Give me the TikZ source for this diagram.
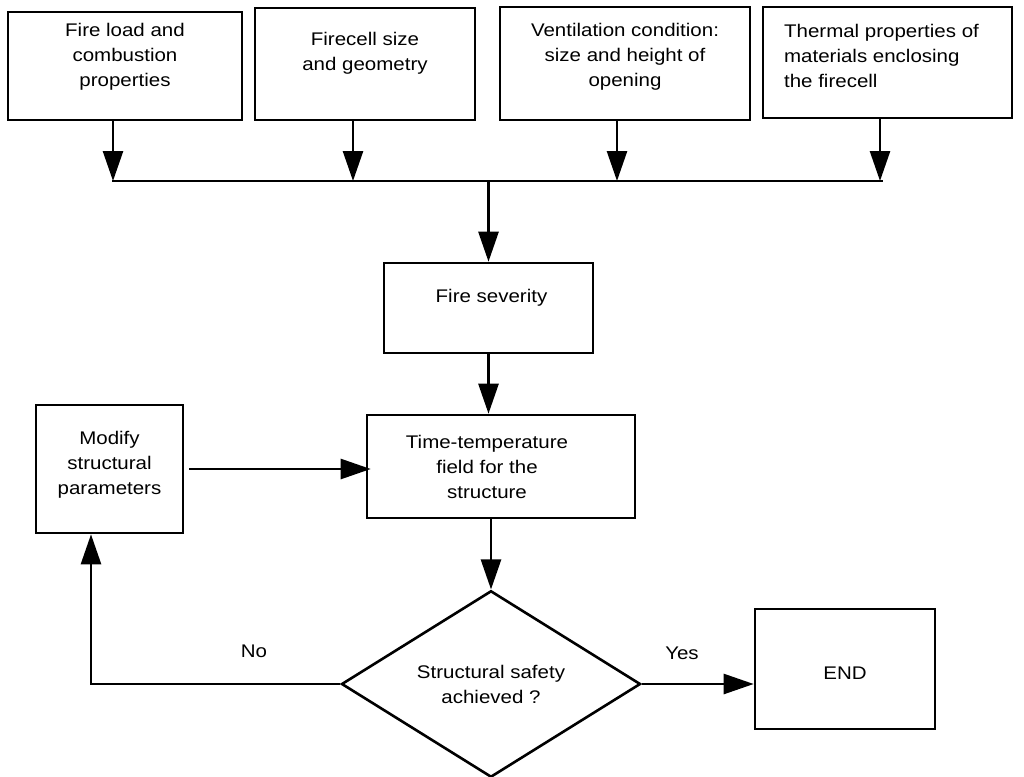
\documentclass[tikz,border=0pt]{standalone}
\usepackage{fontspec}
\setmainfont{Liberation Sans}[FakeStretch=1.12]
\usetikzlibrary{arrows.meta,shapes.geometric}
\begin{document}
\begin{tikzpicture}[x=1pt,y=-1pt,
 txt/.style={font=\fontsize{18.3}{25}\selectfont},
 box/.style={draw,line width=2.6pt,align=center,inner sep=0pt,txt},
 lab/.style={txt,align=center,inner sep=0pt},
 arr/.style={line width=2.6pt,-{Triangle[length=30pt,width=20pt]}},
 ln/.style={line width=2.6pt}]
\useasboundingbox (0,0) rectangle (1024,776);
% top boxes
\node[box, minimum width=234pt, minimum height=108pt,
  label={[lab,yshift=9pt]center:{Fire load and\\combustion\\properties}}] (b1) at (125,66) {};
\node[box, minimum width=220pt, minimum height=112pt,
  label={[lab,yshift=11pt]center:{Firecell size\\and geometry}}] (b2) at (365,64) {};
\node[box, minimum width=250pt, minimum height=113pt,
  label={[lab,yshift=7pt]center:{Ventilation condition:\\size and height of\\opening}}] (b3) at (625,63.5) {};
\node[box, minimum width=249pt, minimum height=111pt,
  label={[lab,align=left,yshift=7pt,xshift=-6pt]center:{Thermal properties of\\materials enclosing\\the firecell}}] (b4) at (887.5,62.5) {};
% junctions
\coordinate (j1) at (113,181);
\coordinate (j2) at (353,181);
\coordinate (j3) at (617,181);
\coordinate (j4) at (880,181);
\coordinate (jc) at (488.5,181);
\draw[arr] (b1.south -| j1) -- (j1);
\draw[arr] (b2.south -| j2) -- (j2);
\draw[arr] (b3.south -| j3) -- (j3);
\draw[arr] (b4.south -| j4) -- (j4);
\draw[ln] ([xshift=-1pt]j1) -- ([xshift=3pt]j4);
% middle
\node[box, minimum width=209pt, minimum height=90pt,
  label={[lab,yshift=10pt,xshift=3pt]center:{Fire severity}}] (fs) at (488.5,308) {};
\draw[arr] (jc) -- (fs.north);
\node[box, minimum width=268pt, minimum height=103pt,
  label={[lab,xshift=-14pt]center:{Time-temperature\\field for the\\structure}}] (tt) at (501,466.5) {};
\draw[arr] (fs.south) -- (fs.south |- tt.north);
\node[box, minimum width=147pt, minimum height=128pt,
  label={[lab,yshift=4pt]center:{Modify\\structural\\parameters}}] (mod) at (109.5,469) {};
\draw[arr] ([xshift=5pt]mod.east) -- ([xshift=5pt]mod.east -| tt.west);
% decision
\node[draw, diamond, line width=2.6pt, minimum width=299pt, minimum height=184pt, inner sep=0pt, align=center, txt] (dm) at (491,684) {Structural safety\\achieved ?};
\draw[arr] (tt.south -| dm.north) -- (dm.north);
\coordinate (nc) at (91,684);
\draw[arr] (dm.west) -- (nc) -- (nc |- mod.south);
\node[txt] (no) at (254,651) {No};
\node[box, minimum width=180pt, minimum height=120pt,
  label={[lab,yshift=-4pt]center:{END}}] (en) at (845,669) {};
\draw[arr] (dm.east) -- (dm.east -| en.west);
\node[txt] (yes) at (682,653) {Yes};
\end{tikzpicture}
\end{document}
